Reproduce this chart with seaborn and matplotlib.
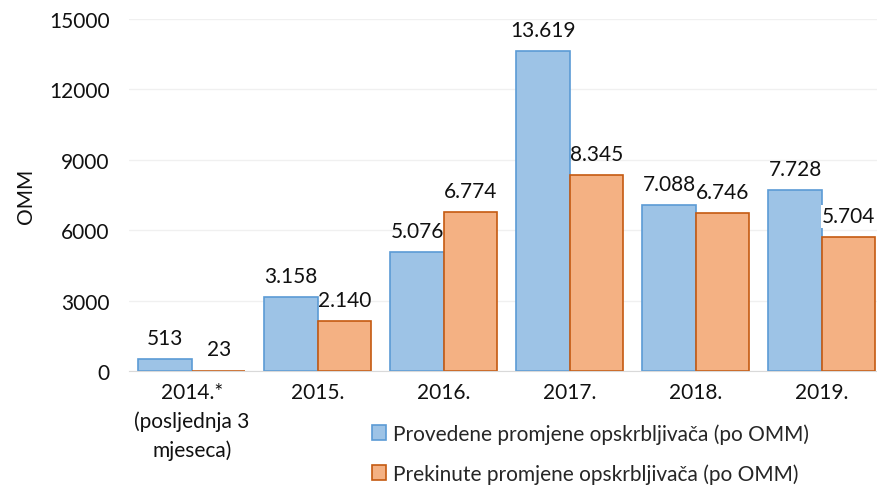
import pandas as pd
import matplotlib.pyplot as plt
import seaborn as sns

years = ['2014.*\n(posljednja 3\nmjeseca)', '2015.', '2016.', '2017.', '2018.', '2019.']
provedene = [513, 3158, 5076, 13619, 7088, 7728]
prekinute = [23, 2140, 6774, 8345, 6746, 5704]
series = ['Provedene promjene opskrbljivača (po OMM)', 'Prekinute promjene opskrbljivača (po OMM)']
y_ticks = [0, 3000, 6000, 9000, 12000, 15000]

df = pd.DataFrame({
    'year': years * 2,
    'value': provedene + prekinute,
    'series': [series[0]] * len(years) + [series[1]] * len(years),
})

sns.set_style('white')
plt.rcParams['font.family'] = ['Lato', 'DejaVu Sans']

fills = ['#9DC3E6', '#F4B183']
edges = ['#5B9BD5', '#C55A11']
fs = 15

fig = plt.figure(figsize=(8.77, 4.89), dpi=100)
ax = fig.add_axes([0.147, 0.239, 0.862, 0.72])
sns.barplot(data=df, x='year', y='value', hue='series', palette=fills,
            saturation=1, width=0.85, ax=ax, legend=False)

for cont, ec in zip(ax.containers, edges):
    for bar in cont:
        bar.set_edgecolor(ec)
        bar.set_linewidth(1.2)

def fmt(v):
    return f'{v:,}'.replace(',', '.')

for i, cont in enumerate(ax.containers):
    vals = provedene if i == 0 else prekinute
    for bar, v in zip(cont, vals):
        x = bar.get_x() + bar.get_width() / 2
        box = dict(facecolor='white', edgecolor='none', pad=1) if v == 5704 else None
        ax.annotate(fmt(v), (x, v), xytext=(0, 8), textcoords='offset points',
                    ha='center', va='bottom', fontsize=fs, color='#111111', bbox=box)

ax.set_ylim(0, 15000)
ax.set_yticks(y_ticks)
ax.set_xlim(-0.5, 5.5)
ax.grid(axis='y', color='#F0F0F0', linewidth=1)
ax.set_axisbelow(True)
for s in ['top', 'right', 'left']:
    ax.spines[s].set_visible(False)
ax.spines['bottom'].set_color('#D9D9D9')
ax.tick_params(axis='both', length=0, labelsize=fs, colors='#111111')
ax.tick_params(axis='x', pad=8)
ax.tick_params(axis='y', pad=14)
for lbl in ax.get_xticklabels():
    lbl.set_linespacing(1.5)
ax.set_xlabel('')
ax.set_ylabel('OMM', fontsize=fs, labelpad=9, color='#111111')

handles = [plt.Rectangle((0, 0), 1, 1, facecolor=f, edgecolor=e, linewidth=1.2)
           for f, e in zip(fills, edges)]
fig.legend(handles, series, loc='upper left', bbox_to_anchor=(0.424, 0.133),
           frameon=False, fontsize=fs, handlelength=0.7, handleheight=0.7,
           handletextpad=0.3, labelspacing=0.95, borderpad=0, borderaxespad=0)

fig.savefig('out.png', dpi=100)
